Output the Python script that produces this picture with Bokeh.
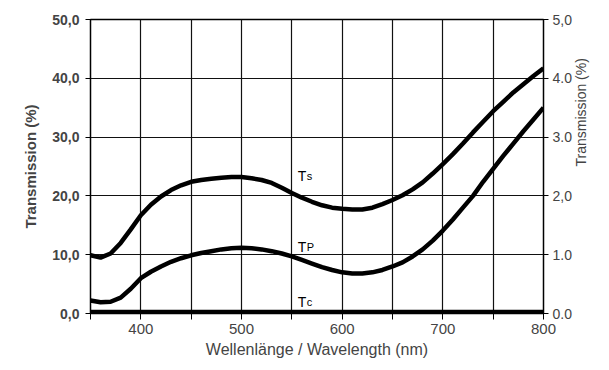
import math
from bokeh.plotting import figure
from bokeh.models import FixedTicker, Range1d, LinearAxis, ColumnDataSource
from bokeh.core.properties import value
from bokeh.embed import file_html
from bokeh.resources import INLINE

wavelength = [350, 360, 370, 380, 390, 400, 410, 420, 430, 440, 450, 460, 470, 480, 490,
              500, 510, 520, 530, 540, 550, 560, 570, 580, 590, 600, 610, 620, 630, 640,
              650, 660, 670, 680, 690, 700, 710, 720, 730, 740, 750, 760, 770, 780, 790, 800]
ts = [9.9, 9.5, 10.2, 12.0, 14.3, 16.7, 18.5, 19.9, 21.0, 21.8, 22.4, 22.7, 22.9, 23.1, 23.2,
      23.2, 23.0, 22.7, 22.2, 21.4, 20.5, 19.7, 19.0, 18.4, 18.0, 17.8, 17.7, 17.7, 18.0, 18.6,
      19.3, 20.1, 21.1, 22.3, 23.8, 25.4, 27.1, 28.9, 30.8, 32.6, 34.4, 36.0, 37.6, 39.0, 40.4, 41.7]
tp = [2.2, 1.9, 2.0, 2.7, 4.2, 6.0, 7.1, 8.0, 8.8, 9.4, 9.9, 10.3, 10.6, 10.9, 11.1,
      11.2, 11.1, 10.9, 10.6, 10.2, 9.7, 9.1, 8.5, 7.9, 7.4, 7.0, 6.8, 6.8, 7.0, 7.4,
      8.0, 8.7, 9.7, 10.9, 12.4, 14.1, 16.0, 18.0, 20.0, 22.4, 24.6, 26.8, 28.9, 31.0, 33.0, 35.0]
tc = [0.02] * len(wavelength)

left_ticks = [0, 10, 20, 30, 40, 50]
left_labels = ["0,0", "10,0", "20,0", "30,0", "40,0", "50,0"]
right_ticks = [0, 1, 2, 3, 4, 5]
right_labels = ["0.0", "1.0", "2,0", "3.0", "4.0", "5,0"]
x_major = [400, 500, 600, 700, 800]
x_minor = [350, 450, 550, 650, 750]
x_grid = [400, 450, 500, 550, 600, 650, 700, 750]

# curve labels: subscript letter, wavelength, value on left axis
label_names = ["s", "P", "c"]
label_x = [556, 556, 556]
label_y = [23.3, 11.3, 1.9]

FONT = "Liberation Sans"

p = figure(width=601, height=364, output_backend="svg", toolbar_location=None,
           x_range=Range1d(350, 800), y_range=Range1d(0, 50),
           min_border_left=90, min_border_right=58, min_border_top=19, min_border_bottom=51)
p.extra_y_ranges = {"right": Range1d(0, 5)}

p.outline_line_color = "black"
p.outline_line_width = 1.5

# grid
p.xgrid.ticker = FixedTicker(ticks=x_grid)
p.ygrid.ticker = FixedTicker(ticks=[10, 20, 30, 40])
for g in (p.xgrid, p.ygrid):
    g.grid_line_color = "#111111"
    g.grid_line_width = 1.2

# x axis
xa = p.xaxis[0]
xa.ticker = FixedTicker(ticks=x_major, minor_ticks=x_minor)
xa.axis_label = "Wellenlänge / Wavelength (nm)"
xa.axis_label_text_font = FONT
xa.axis_label_text_font_size = "16px"
xa.axis_label_text_font_style = "normal"
xa.axis_label_standoff = 4
xa.major_label_text_font = FONT
xa.major_label_text_font_size = "15px"
xa.major_label_standoff = 4
xa.major_tick_out = 6
xa.major_tick_in = 0
xa.minor_tick_out = 6
xa.minor_tick_in = 0
xa.axis_line_color = "black"
xa.major_tick_line_color = "black"
xa.minor_tick_line_color = "black"

# left axis
ya = p.yaxis[0]
ya.ticker = FixedTicker(ticks=left_ticks)
ya.major_label_overrides = dict(zip(left_ticks, left_labels))
ya.axis_label = "Transmission (%)"
ya.axis_label_text_font = FONT
ya.axis_label_text_font_size = "15px"
ya.axis_label_text_font_style = "bold"
ya.axis_label_standoff = 10
ya.major_label_text_font = FONT
ya.major_label_text_font_size = "14px"
ya.major_label_text_font_style = "bold"
ya.major_label_standoff = 6
ya.major_tick_out = 5
ya.major_tick_in = 0
ya.minor_tick_out = 0
ya.minor_tick_in = 0

# right axis
ra = LinearAxis(y_range_name="right", ticker=FixedTicker(ticks=right_ticks))
ra.major_label_overrides = dict(zip(right_ticks, right_labels))
ra.axis_label = "Transmission (%)"
ra.axis_label_orientation = math.pi / 2
ra.axis_label_text_font = FONT
ra.axis_label_text_font_size = "14px"
ra.axis_label_text_font_style = "normal"
ra.axis_label_standoff = 6
ra.major_label_text_font = FONT
ra.major_label_text_font_size = "14px"
ra.major_label_standoff = 4
ra.major_tick_out = 5
ra.major_tick_in = 0
ra.minor_tick_out = 0
ra.minor_tick_in = 0
p.add_layout(ra, "right")

src = ColumnDataSource(dict(x=wavelength, ts=ts, tp=tp, tc=tc))
p.line("x", "ts", source=src, line_color="black", line_width=4.5)
p.line("x", "tp", source=src, line_color="black", line_width=4.5)
p.line("x", "tc", source=src, line_color="black", line_width=5, y_range_name="right")

lsrc = ColumnDataSource(dict(x=label_x, y=label_y, sub=label_names, t=["T"] * 3))
p.text("x", "y", text="t", source=lsrc, text_font=value(FONT), text_font_size="14px",
       text_baseline="alphabetic", text_align="left", text_color="black")
p.text("x", "y", text="sub", source=lsrc, text_font=value(FONT), text_font_size="11px",
       text_baseline="alphabetic", text_align="left", text_color="black", x_offset=9)

open("out.html", "w").write(file_html(p, INLINE))
